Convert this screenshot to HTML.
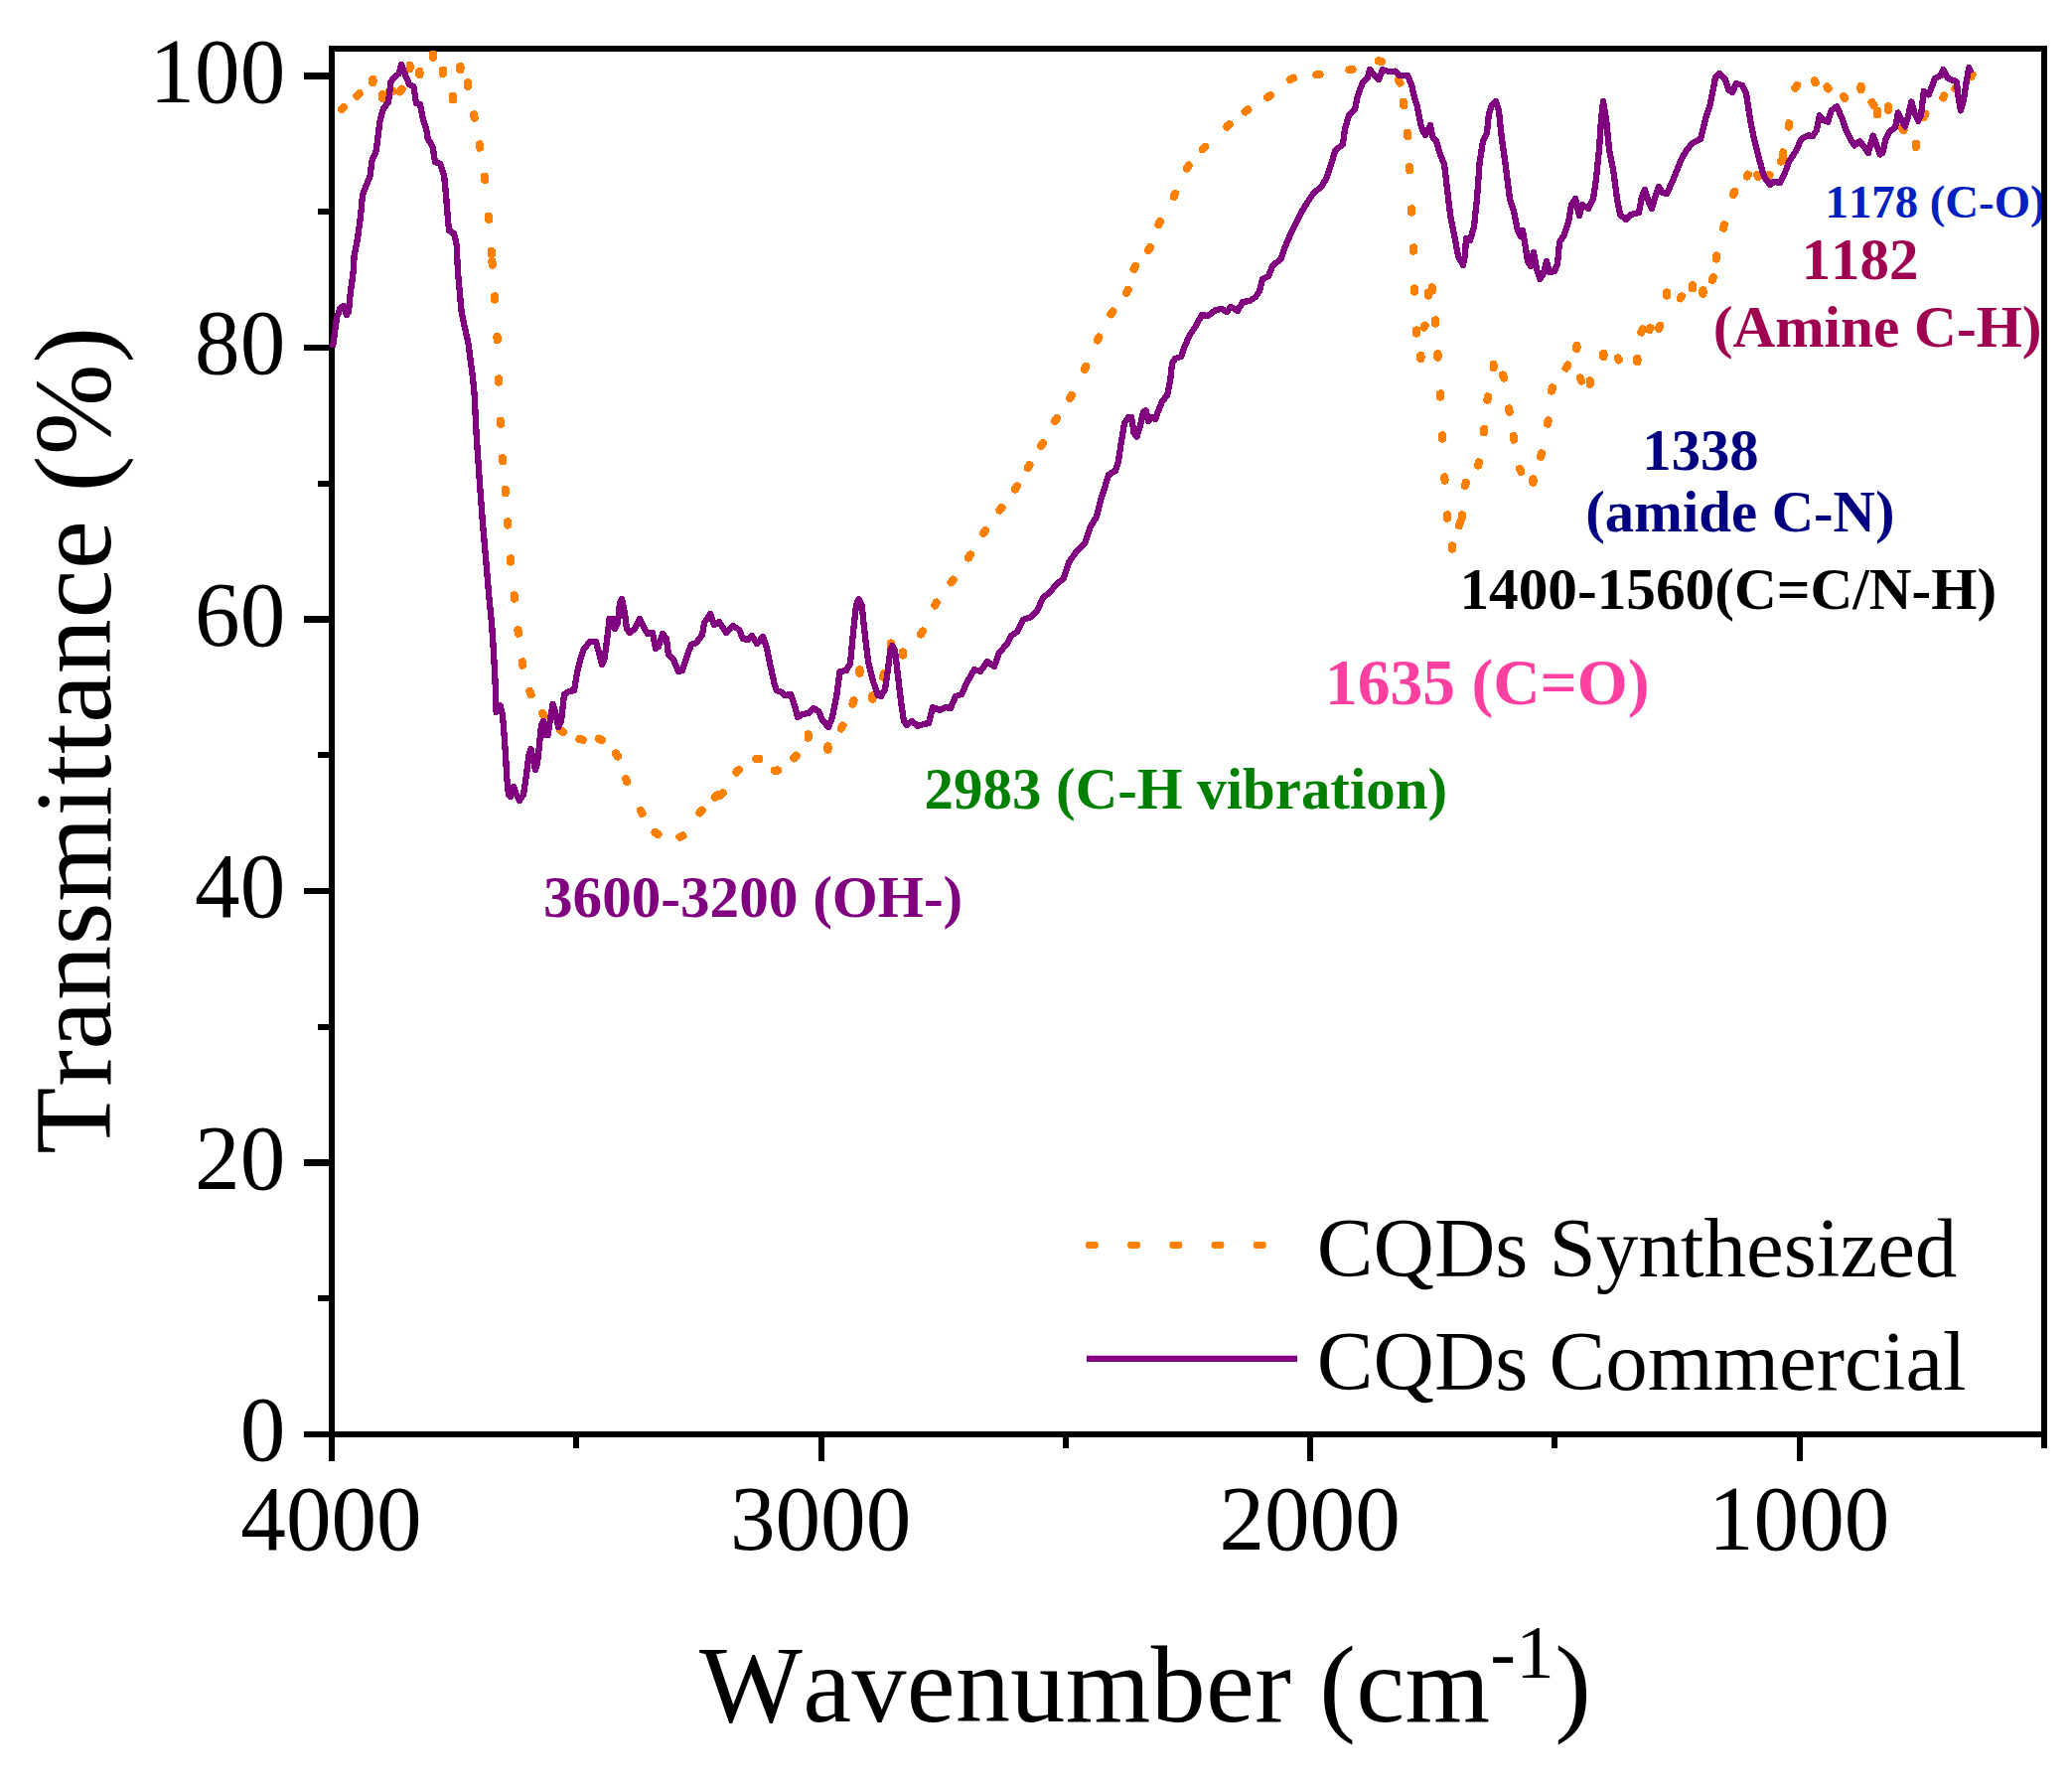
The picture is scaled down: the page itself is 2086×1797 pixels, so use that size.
<!DOCTYPE html>
<html lang="en"><head><meta charset="utf-8"><title>FTIR spectra of CQDs</title>
<style>
html,body{margin:0;padding:0;background:#fff;}
body{width:2086px;height:1797px;overflow:hidden;}
svg{display:block;}
text{font-family:"Liberation Serif","Times New Roman",Times,serif;font-kerning:none;font-variant-ligatures:none;}
.tick{font-size:91.2px;fill:#000;}
.b{font-weight:bold;}
</style></head><body>
<svg width="2086" height="1797" viewBox="0 0 2086 1797" shape-rendering="auto">
<rect x="0" y="0" width="2086" height="1797" fill="#fff"/>
<defs><clipPath id="plot"><rect x="334" y="49" width="1721" height="1395"/></clipPath></defs>
<rect x="334" y="49" width="1724" height="1395" fill="none" stroke="#000" stroke-width="6" shape-rendering="crispEdges"/>
<g stroke="#000" stroke-linecap="butt" shape-rendering="crispEdges">
<line x1="306" y1="1444.00" x2="334" y2="1444.00" stroke-width="6.3"/>
<line x1="320" y1="1307.25" x2="334" y2="1307.25" stroke-width="6"/>
<line x1="306" y1="1170.50" x2="334" y2="1170.50" stroke-width="6.3"/>
<line x1="320" y1="1033.75" x2="334" y2="1033.75" stroke-width="6"/>
<line x1="306" y1="897.00" x2="334" y2="897.00" stroke-width="6.3"/>
<line x1="320" y1="760.25" x2="334" y2="760.25" stroke-width="6"/>
<line x1="306" y1="623.50" x2="334" y2="623.50" stroke-width="6.3"/>
<line x1="320" y1="486.75" x2="334" y2="486.75" stroke-width="6"/>
<line x1="306" y1="350.00" x2="334" y2="350.00" stroke-width="6.3"/>
<line x1="320" y1="213.25" x2="334" y2="213.25" stroke-width="6"/>
<line x1="306" y1="76.50" x2="334" y2="76.50" stroke-width="6.3"/>
<line x1="334.00" y1="1444" x2="334.00" y2="1471" stroke-width="6"/>
<line x1="580.29" y1="1444" x2="580.29" y2="1458" stroke-width="6"/>
<line x1="826.57" y1="1444" x2="826.57" y2="1471" stroke-width="6"/>
<line x1="1072.86" y1="1444" x2="1072.86" y2="1458" stroke-width="6"/>
<line x1="1319.14" y1="1444" x2="1319.14" y2="1471" stroke-width="6"/>
<line x1="1565.43" y1="1444" x2="1565.43" y2="1458" stroke-width="6"/>
<line x1="1811.71" y1="1444" x2="1811.71" y2="1471" stroke-width="6"/>
<line x1="2058.00" y1="1444" x2="2058.00" y2="1458" stroke-width="6"/>
</g>
<g stroke="#ff8000" stroke-width="8.2" stroke-linecap="round" fill="none" shape-rendering="crispEdges">
<line x1="343.8" y1="110.1" x2="346.2" y2="107.9"/>
<line x1="359.4" y1="96.5" x2="361.8" y2="94.3"/>
<line x1="375.4" y1="79.8" x2="375.4" y2="83.1"/>
<line x1="385.0" y1="95.3" x2="385.0" y2="98.7"/>
<line x1="392.0" y1="92.9" x2="395.2" y2="91.9"/>
<line x1="402.6" y1="92.3" x2="404.6" y2="89.7"/>
<line x1="412.6" y1="65.9" x2="412.6" y2="69.2"/>
<line x1="422.4" y1="71.9" x2="422.4" y2="75.2"/>
<line x1="436.0" y1="54.8" x2="436.0" y2="58.0"/>
<line x1="446.0" y1="70.8" x2="446.0" y2="74.1"/>
<line x1="463.4" y1="66.9" x2="463.4" y2="70.2"/>
<line x1="456.0" y1="96.9" x2="456.0" y2="100.2"/>
<line x1="471.0" y1="83.3" x2="471.0" y2="86.7"/>
<line x1="477.1" y1="115.4" x2="477.7" y2="118.6"/>
<line x1="482.7" y1="145.4" x2="483.3" y2="148.6"/>
<line x1="487.8" y1="177.8" x2="488.2" y2="181.0"/>
<line x1="491.9" y1="217.8" x2="492.1" y2="221.0"/>
<line x1="494.7" y1="252.8" x2="494.9" y2="256.0"/>
<line x1="495.5" y1="263.4" x2="495.7" y2="266.6"/>
<line x1="497.9" y1="298.4" x2="498.1" y2="301.6"/>
<line x1="500.5" y1="339.0" x2="500.7" y2="342.2"/>
<line x1="501.9" y1="381.4" x2="502.1" y2="384.6"/>
<line x1="503.9" y1="423.8" x2="504.1" y2="427.0"/>
<line x1="505.9" y1="461.0" x2="506.1" y2="464.2"/>
<line x1="508.7" y1="493.0" x2="508.9" y2="496.2"/>
<line x1="511.1" y1="525.4" x2="511.3" y2="528.6"/>
<line x1="513.9" y1="562.4" x2="514.1" y2="565.6"/>
<line x1="517.6" y1="599.4" x2="518.0" y2="602.6"/>
<line x1="521.4" y1="634.4" x2="521.8" y2="637.6"/>
<line x1="525.7" y1="666.4" x2="526.3" y2="669.6"/>
<line x1="533.4" y1="696.1" x2="534.6" y2="699.1"/>
<line x1="546.0" y1="718.3" x2="548.0" y2="720.9"/>
<line x1="564.2" y1="735.1" x2="567.0" y2="736.9"/>
<line x1="583.4" y1="744.1" x2="586.6" y2="744.7"/>
<line x1="602.9" y1="743.7" x2="605.9" y2="745.1"/>
<line x1="620.1" y1="758.6" x2="621.9" y2="761.4"/>
<line x1="630.0" y1="784.1" x2="631.2" y2="787.1"/>
<line x1="644.8" y1="816.0" x2="646.4" y2="818.8"/>
<line x1="659.6" y1="838.1" x2="662.4" y2="839.9"/>
<line x1="684.5" y1="842.7" x2="687.5" y2="841.3"/>
<line x1="704.5" y1="818.2" x2="706.7" y2="815.8"/>
<line x1="719.7" y1="802.6" x2="722.3" y2="800.4"/>
<line x1="725.4" y1="800.8" x2="727.6" y2="798.2"/>
<line x1="741.3" y1="777.5" x2="743.7" y2="775.1"/>
<line x1="761.0" y1="764.0" x2="764.2" y2="764.0"/>
<line x1="780.0" y1="775.7" x2="783.2" y2="775.5"/>
<line x1="799.3" y1="763.2" x2="801.5" y2="760.8"/>
<line x1="813.6" y1="739.4" x2="813.6" y2="742.6"/>
<line x1="833.4" y1="751.4" x2="833.4" y2="754.6"/>
<line x1="846.8" y1="733.4" x2="848.4" y2="730.6"/>
<line x1="858.5" y1="708.6" x2="859.5" y2="705.4"/>
<line x1="865.4" y1="674.4" x2="865.4" y2="677.6"/>
<line x1="878.4" y1="700.4" x2="878.4" y2="703.6"/>
<line x1="889.1" y1="681.6" x2="890.1" y2="678.4"/>
<line x1="897.0" y1="647.4" x2="897.0" y2="650.6"/>
<line x1="909.0" y1="656.4" x2="909.0" y2="659.6"/>
<line x1="927.1" y1="638.4" x2="928.9" y2="635.6"/>
<line x1="941.2" y1="609.4" x2="942.8" y2="606.6"/>
<line x1="957.6" y1="586.3" x2="959.6" y2="583.7"/>
<line x1="975.1" y1="561.4" x2="976.9" y2="558.6"/>
<line x1="990.1" y1="536.8" x2="991.9" y2="534.0"/>
<line x1="1006.4" y1="513.7" x2="1008.4" y2="511.1"/>
<line x1="1022.1" y1="492.4" x2="1023.9" y2="489.6"/>
<line x1="1034.8" y1="471.0" x2="1036.4" y2="468.2"/>
<line x1="1048.2" y1="449.0" x2="1049.8" y2="446.2"/>
<line x1="1062.1" y1="423.8" x2="1063.9" y2="421.0"/>
<line x1="1077.2" y1="400.8" x2="1078.8" y2="398.0"/>
<line x1="1091.9" y1="371.9" x2="1093.3" y2="368.9"/>
<line x1="1104.9" y1="342.5" x2="1106.3" y2="339.5"/>
<line x1="1118.5" y1="316.4" x2="1120.3" y2="313.6"/>
<line x1="1134.1" y1="294.9" x2="1135.5" y2="291.9"/>
<line x1="1141.6" y1="270.9" x2="1143.2" y2="267.9"/>
<line x1="1156.2" y1="251.8" x2="1157.8" y2="249.0"/>
<line x1="1166.3" y1="226.1" x2="1167.7" y2="223.1"/>
<line x1="1181.8" y1="197.9" x2="1183.2" y2="194.9"/>
<line x1="1194.9" y1="169.4" x2="1196.7" y2="166.6"/>
<line x1="1210.8" y1="150.2" x2="1213.2" y2="147.8"/>
<line x1="1235.2" y1="127.5" x2="1237.6" y2="125.3"/>
<line x1="1253.7" y1="112.4" x2="1256.3" y2="110.4"/>
<line x1="1276.3" y1="98.0" x2="1278.9" y2="96.0"/>
<line x1="1298.9" y1="80.1" x2="1301.9" y2="78.7"/>
<line x1="1325.4" y1="75.3" x2="1328.6" y2="74.7"/>
<line x1="1358.4" y1="70.3" x2="1361.6" y2="69.7"/>
<line x1="1387.8" y1="61.2" x2="1391.0" y2="62.0"/>
<line x1="1407.8" y1="80.6" x2="1409.4" y2="83.4"/>
<line x1="1412.7" y1="102.8" x2="1413.3" y2="106.0"/>
<line x1="1416.8" y1="133.8" x2="1417.2" y2="137.0"/>
<line x1="1418.9" y1="168.0" x2="1419.1" y2="171.2"/>
<line x1="1420.9" y1="210.4" x2="1421.1" y2="213.6"/>
<line x1="1422.9" y1="249.4" x2="1423.1" y2="252.6"/>
<line x1="1424.0" y1="290.4" x2="1424.0" y2="293.6"/>
<line x1="1438.0" y1="294.4" x2="1438.0" y2="297.6"/>
<line x1="1441.6" y1="289.4" x2="1441.6" y2="292.6"/>
<line x1="1426.0" y1="332.4" x2="1426.0" y2="335.6"/>
<line x1="1434.5" y1="327.7" x2="1433.5" y2="329.5"/>
<line x1="1445.2" y1="322.4" x2="1445.2" y2="325.6"/>
<line x1="1430.4" y1="357.8" x2="1430.4" y2="361.0"/>
<line x1="1447.4" y1="356.4" x2="1447.4" y2="359.6"/>
<line x1="1449.9" y1="396.4" x2="1450.1" y2="399.6"/>
<line x1="1451.9" y1="438.4" x2="1452.1" y2="441.6"/>
<line x1="1454.3" y1="480.4" x2="1454.5" y2="483.6"/>
<line x1="1456.8" y1="518.4" x2="1457.2" y2="521.6"/>
<line x1="1462.0" y1="549.4" x2="1462.0" y2="552.6"/>
<line x1="1469.0" y1="529.1" x2="1470.0" y2="525.9"/>
<line x1="1471.8" y1="521.6" x2="1472.2" y2="518.4"/>
<line x1="1474.9" y1="489.0" x2="1475.9" y2="485.8"/>
<line x1="1488.1" y1="468.6" x2="1489.1" y2="465.4"/>
<line x1="1493.8" y1="435.2" x2="1494.2" y2="432.0"/>
<line x1="1497.4" y1="402.6" x2="1497.8" y2="399.4"/>
<line x1="1503.6" y1="366.8" x2="1503.6" y2="370.0"/>
<line x1="1513.0" y1="377.4" x2="1514.2" y2="380.6"/>
<line x1="1519.1" y1="411.4" x2="1519.7" y2="414.6"/>
<line x1="1523.7" y1="439.4" x2="1524.3" y2="442.6"/>
<line x1="1529.9" y1="471.9" x2="1531.3" y2="474.9"/>
<line x1="1543.4" y1="482.4" x2="1543.4" y2="485.6"/>
<line x1="1551.2" y1="459.6" x2="1552.0" y2="456.4"/>
<line x1="1558.1" y1="426.6" x2="1558.7" y2="423.4"/>
<line x1="1562.1" y1="393.6" x2="1563.1" y2="390.4"/>
<line x1="1576.6" y1="370.4" x2="1578.2" y2="367.6"/>
<line x1="1587.4" y1="348.0" x2="1587.4" y2="351.2"/>
<line x1="1591.0" y1="380.5" x2="1592.2" y2="383.5"/>
<line x1="1600.6" y1="383.4" x2="1600.6" y2="386.6"/>
<line x1="1614.4" y1="355.8" x2="1614.4" y2="359.0"/>
<line x1="1628.9" y1="360.5" x2="1629.9" y2="362.3"/>
<line x1="1648.4" y1="360.8" x2="1648.4" y2="364.0"/>
<line x1="1652.4" y1="334.5" x2="1653.6" y2="331.5"/>
<line x1="1661.5" y1="330.1" x2="1660.5" y2="331.9"/>
<line x1="1669.9" y1="330.9" x2="1671.3" y2="327.9"/>
<line x1="1678.0" y1="294.4" x2="1678.0" y2="297.6"/>
<line x1="1692.9" y1="298.5" x2="1691.9" y2="300.3"/>
<line x1="1704.0" y1="287.0" x2="1704.0" y2="290.2"/>
<line x1="1714.4" y1="292.4" x2="1714.4" y2="295.6"/>
<line x1="1723.8" y1="282.1" x2="1725.0" y2="279.1"/>
<line x1="1727.7" y1="260.6" x2="1728.3" y2="257.4"/>
<line x1="1735.0" y1="229.6" x2="1735.8" y2="226.4"/>
<line x1="1744.9" y1="195.9" x2="1746.3" y2="192.9"/>
<line x1="1759.9" y1="175.7" x2="1758.9" y2="177.5"/>
<line x1="1768.9" y1="176.1" x2="1769.9" y2="177.9"/>
<line x1="1781.5" y1="176.1" x2="1780.5" y2="177.9"/>
<line x1="1793.1" y1="162.4" x2="1794.9" y2="159.6"/>
<line x1="1794.7" y1="156.6" x2="1795.3" y2="153.4"/>
<line x1="1800.7" y1="127.6" x2="1801.3" y2="124.4"/>
<line x1="1807.4" y1="88.7" x2="1809.2" y2="85.9"/>
<line x1="1826.8" y1="81.4" x2="1827.8" y2="83.2"/>
<line x1="1839.5" y1="87.5" x2="1840.5" y2="89.3"/>
<line x1="1856.1" y1="96.9" x2="1857.1" y2="98.7"/>
<line x1="1873.5" y1="86.8" x2="1873.5" y2="90.1"/>
<line x1="1884.6" y1="103.1" x2="1886.4" y2="105.9"/>
<line x1="1890.0" y1="111.8" x2="1890.0" y2="115.2"/>
<line x1="1901.0" y1="107.3" x2="1901.0" y2="110.7"/>
<line x1="1914.5" y1="128.5" x2="1916.5" y2="131.1"/>
<line x1="1929.0" y1="144.8" x2="1929.0" y2="148.1"/>
<line x1="1936.7" y1="117.7" x2="1938.3" y2="114.9"/>
<line x1="1957.2" y1="96.5" x2="1956.2" y2="98.3"/>
<line x1="1969.5" y1="87.4" x2="1968.5" y2="89.2"/>
<line x1="1985.5" y1="75.1" x2="1984.5" y2="76.9"/>
</g>
<path d="M335.0 350.0 L339.0 320.0 L342.4 310.0 L345.6 308.0 L349.0 317.0 L351.0 314.0 L352.4 298.0 L355.6 274.0 L356.6 258.0 L360.0 240.0 L363.0 218.0 L365.0 196.0 L369.0 186.0 L372.4 178.0 L374.4 162.0 L378.6 152.0 L381.0 134.0 L382.4 122.0 L386.0 109.0 L391.0 103.0 L393.6 82.0 L397.0 78.0 L401.6 74.0 L404.0 65.0 L407.0 73.0 L412.0 85.0 L416.4 87.0 L419.0 104.0 L423.0 105.0 L426.0 120.0 L429.4 131.0 L430.6 139.0 L435.6 148.0 L438.0 163.0 L443.0 165.0 L447.0 176.0 L449.0 196.0 L450.6 216.0 L452.0 232.0 L457.0 235.0 L459.6 246.0 L461.0 274.0 L463.0 296.0 L464.4 312.0 L468.0 330.0 L471.6 346.0 L473.6 362.0 L476.0 380.0 L477.6 397.0 L479.6 437.0 L483.0 487.0 L486.0 527.0 L489.0 561.0 L492.0 597.0 L495.0 627.0 L497.0 657.0 L498.6 687.0 L499.4 709.0 L499.6 717.0 L503.6 710.0 L506.0 720.0 L507.6 740.0 L509.0 760.0 L510.4 784.0 L512.0 800.0 L514.0 802.0 L517.0 792.0 L520.0 800.0 L523.0 806.0 L527.0 800.0 L530.0 780.0 L532.4 760.0 L534.4 754.0 L537.0 766.0 L539.0 775.0 L541.0 768.0 L543.0 750.0 L545.0 730.0 L547.0 726.0 L549.0 740.0 L551.6 740.0 L554.0 724.0 L556.6 709.0 L559.0 716.0 L562.0 732.0 L565.0 726.0 L568.0 699.0 L573.0 696.0 L578.0 695.0 L581.0 677.0 L584.0 665.0 L588.0 653.0 L594.0 646.0 L600.0 646.0 L603.0 657.0 L606.0 669.0 L608.6 663.0 L612.0 637.0 L613.6 623.0 L617.0 623.0 L619.0 633.0 L622.0 627.0 L624.0 607.0 L626.0 603.0 L629.0 617.0 L631.0 633.0 L634.0 637.0 L639.0 633.0 L644.0 623.0 L648.0 631.0 L652.0 638.0 L657.0 637.0 L660.0 653.0 L663.0 651.0 L667.0 638.0 L671.0 643.0 L673.0 659.0 L678.0 664.0 L683.0 676.0 L687.0 675.0 L692.0 659.0 L696.0 649.0 L701.0 647.0 L707.0 639.0 L709.0 627.0 L715.0 618.0 L719.0 629.0 L724.0 626.0 L731.0 637.0 L738.0 630.0 L744.0 634.0 L748.0 643.0 L753.0 644.0 L757.0 640.0 L762.0 648.0 L768.0 641.0 L772.0 652.0 L776.0 672.0 L780.0 690.0 L782.0 695.0 L787.0 697.0 L790.0 700.0 L796.0 699.0 L800.0 710.0 L803.0 722.0 L808.0 719.0 L814.0 718.0 L819.0 713.0 L824.0 716.0 L828.0 725.0 L834.0 732.0 L838.0 722.0 L842.0 702.0 L845.6 676.0 L852.0 675.0 L856.0 668.0 L859.0 636.0 L862.0 609.0 L864.6 603.0 L867.6 609.0 L870.4 636.0 L874.0 666.0 L879.0 686.0 L884.0 700.0 L887.0 701.0 L891.0 694.0 L894.0 674.0 L896.4 654.0 L898.4 650.0 L901.0 655.0 L904.0 680.0 L907.0 706.0 L910.0 726.0 L913.0 730.0 L918.0 726.0 L924.0 731.0 L930.0 729.0 L935.0 728.0 L939.0 712.0 L946.0 715.0 L952.0 712.0 L957.0 713.0 L962.0 701.0 L968.0 699.0 L974.0 686.0 L981.0 674.0 L987.0 676.0 L994.0 666.0 L1001.0 671.0 L1006.0 657.0 L1014.0 648.0 L1018.0 640.0 L1024.0 636.0 L1030.0 624.0 L1038.0 621.0 L1044.0 615.0 L1050.0 602.0 L1057.0 596.0 L1064.0 588.0 L1071.0 582.0 L1076.0 566.0 L1084.0 555.0 L1092.0 547.0 L1098.0 530.0 L1104.0 520.0 L1108.0 504.0 L1113.0 488.0 L1116.0 478.0 L1123.0 474.0 L1126.0 464.0 L1129.0 444.0 L1132.0 426.0 L1136.0 420.0 L1139.0 420.0 L1141.6 436.0 L1144.4 440.0 L1148.0 428.0 L1151.0 415.0 L1153.6 413.0 L1156.0 424.0 L1160.0 420.0 L1163.0 422.0 L1166.0 414.0 L1170.0 404.0 L1175.0 398.0 L1178.0 384.0 L1180.0 366.0 L1183.0 361.0 L1189.0 359.0 L1193.0 348.0 L1198.0 337.0 L1204.0 328.0 L1210.0 317.0 L1216.0 318.0 L1224.0 312.0 L1230.0 311.0 L1235.0 314.0 L1239.0 309.0 L1246.0 313.0 L1251.0 304.0 L1258.0 303.0 L1264.0 299.0 L1268.0 293.0 L1271.0 281.0 L1277.0 278.0 L1281.0 268.0 L1290.0 260.0 L1294.0 248.0 L1299.0 236.0 L1305.0 224.0 L1310.0 214.0 L1316.0 204.0 L1322.0 195.0 L1331.0 187.0 L1336.0 178.0 L1340.0 166.0 L1344.0 152.0 L1352.0 145.0 L1354.0 130.0 L1358.0 116.0 L1364.0 110.0 L1367.0 96.0 L1372.0 83.0 L1377.0 78.0 L1379.0 70.0 L1383.0 75.0 L1388.0 80.0 L1392.0 70.0 L1398.0 72.0 L1405.0 71.6 L1409.0 76.0 L1417.0 76.0 L1421.0 85.0 L1424.0 98.0 L1427.0 108.0 L1430.0 124.0 L1433.0 133.0 L1435.0 136.0 L1440.0 126.0 L1442.4 138.0 L1446.0 142.0 L1450.0 156.0 L1454.0 165.0 L1457.0 190.0 L1460.0 216.0 L1464.0 236.0 L1468.0 258.0 L1473.0 267.0 L1475.0 256.0 L1476.0 240.0 L1480.0 242.0 L1484.0 228.0 L1487.0 200.0 L1489.6 164.0 L1493.0 142.0 L1497.0 134.0 L1499.0 114.0 L1502.0 106.0 L1506.0 102.0 L1509.0 112.0 L1512.0 140.0 L1516.0 168.0 L1520.0 200.0 L1524.0 212.0 L1528.0 232.0 L1531.0 238.0 L1533.0 232.0 L1535.0 244.0 L1538.0 263.0 L1541.0 268.0 L1544.0 254.0 L1547.0 271.0 L1550.4 281.0 L1554.0 275.0 L1557.0 263.0 L1560.0 274.0 L1565.0 273.0 L1568.0 266.0 L1570.0 244.0 L1575.0 236.0 L1579.0 224.0 L1582.0 206.0 L1586.0 200.0 L1590.0 217.0 L1593.0 206.0 L1599.0 210.0 L1604.0 200.0 L1607.0 180.0 L1610.0 150.0 L1612.0 120.0 L1614.0 102.0 L1617.0 120.0 L1620.0 150.0 L1624.0 170.0 L1628.0 200.0 L1631.0 216.0 L1637.0 221.0 L1642.0 216.0 L1650.0 214.0 L1653.0 198.0 L1656.0 191.0 L1660.0 204.0 L1663.0 210.0 L1667.0 196.0 L1670.0 188.0 L1674.0 194.0 L1678.0 195.0 L1684.0 182.0 L1692.0 162.0 L1698.0 151.0 L1704.0 144.0 L1712.0 140.0 L1717.0 120.0 L1722.0 104.0 L1727.0 78.0 L1731.0 74.0 L1737.0 80.0 L1740.0 90.0 L1744.0 93.0 L1748.0 84.0 L1754.0 86.0 L1758.0 94.0 L1762.0 120.0 L1766.0 140.0 L1771.0 160.0 L1776.0 178.0 L1782.0 186.0 L1786.0 183.0 L1792.0 184.0 L1796.8 174.4 L1801.0 163.0 L1808.0 152.0 L1813.6 140.0 L1820.6 136.0 L1824.8 137.3 L1829.0 131.0 L1831.8 116.3 L1836.0 121.0 L1840.2 122.6 L1843.7 111.4 L1849.3 107.2 L1854.2 118.4 L1858.4 131.0 L1861.9 138.0 L1866.8 146.4 L1872.4 142.2 L1876.6 147.8 L1880.8 154.0 L1885.7 136.6 L1889.9 147.8 L1892.7 155.5 L1895.5 153.4 L1898.3 140.8 L1902.5 132.4 L1908.1 128.2 L1910.9 113.5 L1914.4 121.2 L1917.9 127.5 L1921.4 115.6 L1924.2 102.3 L1927.7 114.2 L1931.2 121.9 L1934.0 115.6 L1936.8 91.8 L1941.7 95.3 L1948.0 79.2 L1953.6 76.4 L1956.4 70.1 L1960.6 78.5 L1964.8 80.6 L1969.7 82.0 L1971.8 98.8 L1973.9 111.4 L1976.7 101.6 L1979.5 83.4 L1982.3 68.0 L1984.4 73.6" fill="none" stroke="#800080" stroke-width="6.3" stroke-linejoin="round" stroke-linecap="butt" shape-rendering="crispEdges"/>
<g clip-path="url(#plot)">
<text class="b" x="547" y="922.8" font-size="58.7px" fill="#800080" textLength="422.3" lengthAdjust="spacingAndGlyphs">3600-3200 (OH-)</text>
<text class="b" x="930.6" y="813.8" font-size="58.7px" fill="#008000" textLength="526.5" lengthAdjust="spacingAndGlyphs">2983 (C-H vibration)</text>
<text class="b" x="1334" y="709" font-size="65.5px" fill="#ff40a0">1635 (C=O)</text>
<text class="b" x="1469.4" y="612.7" font-size="58.7px" fill="#000000" textLength="540.8" lengthAdjust="spacingAndGlyphs">1400-1560(C=C/N-H)</text>
<text class="b" x="1653.3" y="472.8" font-size="58.7px" fill="#000080">1338</text>
<text class="b" x="1596.2" y="535.3" font-size="58.7px" fill="#000080">(amide C-N)</text>
<text class="b" x="1813.7" y="280.7" font-size="58.7px" fill="#a00050" textLength="117.7" lengthAdjust="spacingAndGlyphs">1182</text>
<text class="b" x="1724.7" y="349" font-size="58.7px" fill="#a00050" textLength="330.8" lengthAdjust="spacingAndGlyphs">(Amine C-H)</text>
<text class="b" x="1837.6" y="218.6" font-size="46px" fill="#0020c0" textLength="222" lengthAdjust="spacingAndGlyphs">1178 (C-O)</text>
</g>
<rect x="1093.0" y="1249.9" width="12.8" height="7.1" rx="2.4" fill="#ff8000"/>
<rect x="1135.2" y="1249.9" width="12.8" height="7.1" rx="2.4" fill="#ff8000"/>
<rect x="1177.4" y="1249.9" width="12.8" height="7.1" rx="2.4" fill="#ff8000"/>
<rect x="1219.6" y="1249.9" width="12.8" height="7.1" rx="2.4" fill="#ff8000"/>
<rect x="1261.8" y="1249.9" width="12.8" height="7.1" rx="2.4" fill="#ff8000"/>
<line x1="1094" y1="1367.8" x2="1306" y2="1367.8" stroke="#800080" stroke-width="6.3" stroke-linecap="butt"/>
<text x="1325.8" y="1284.7" font-size="85px" fill="#000">CQDs Synthesized</text>
<text x="1325.8" y="1398.5" font-size="85px" fill="#000">CQDs Commercial</text>
<text class="tick" transform="translate(287.3 1470.2) scale(1 1.012)" text-anchor="end">0</text>
<text class="tick" transform="translate(287.3 1196.7) scale(1 1.012)" text-anchor="end">20</text>
<text class="tick" transform="translate(287.3 923.2) scale(1 1.012)" text-anchor="end">40</text>
<text class="tick" transform="translate(287.3 649.7) scale(1 1.012)" text-anchor="end">60</text>
<text class="tick" transform="translate(287.3 376.2) scale(1 1.012)" text-anchor="end">80</text>
<text class="tick" transform="translate(287.3 102.7) scale(1 1.012)" text-anchor="end">100</text>
<text class="tick" transform="translate(333.5 1560.2) scale(1 1.012)" text-anchor="middle">4000</text>
<text class="tick" transform="translate(826.1 1560.2) scale(1 1.012)" text-anchor="middle">3000</text>
<text class="tick" transform="translate(1318.6 1560.2) scale(1 1.012)" text-anchor="middle">2000</text>
<text class="tick" transform="translate(1811.2 1560.2) scale(1 1.012)" text-anchor="middle">1000</text>
<text x="704" y="1733.2" font-size="110px" fill="#000" letter-spacing="0.38">Wavenumber (cm<tspan font-size="77px" dy="-44">-1</tspan><tspan dy="44">)</tspan></text>
<text transform="translate(111 745) rotate(-90)" font-size="110px" fill="#000" text-anchor="middle" letter-spacing="0.7">Transmittance (%)</text>
</svg>
</body></html>
